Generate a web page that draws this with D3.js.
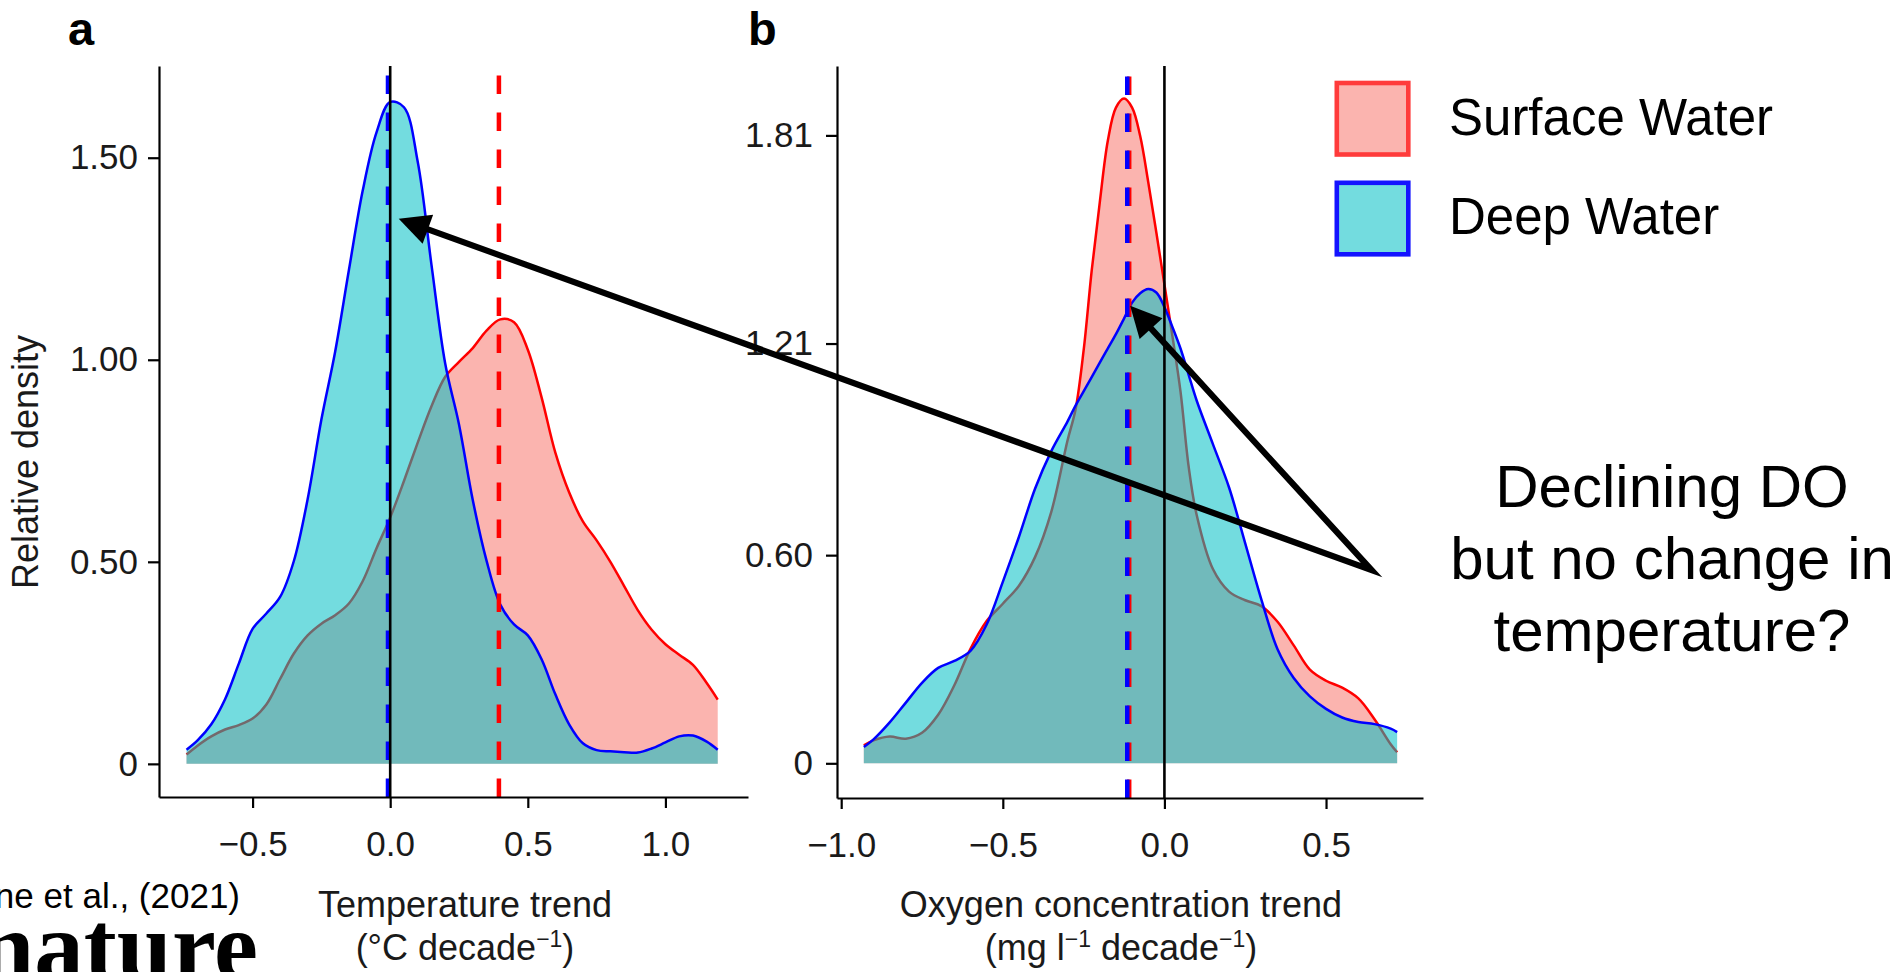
<!DOCTYPE html>
<html>
<head>
<meta charset="utf-8">
<script src="https://cdn.jsdelivr.net/npm/d3@7"></script>
<style>
  html, body { margin: 0; padding: 0; background: #fff; }
  svg { display: block; font-family: "Liberation Sans", Arial, Helvetica, sans-serif; }
</style>
</head>
<body>
<svg id="chart" width="1902" height="972"></svg>
<script>
// values (relative density on a trend grid)
const tempGrid = [-0.74, -0.70, -0.65, -0.60, -0.55, -0.50, -0.45, -0.40, -0.35, -0.30,
  -0.25, -0.20, -0.15, -0.10, -0.05, 0.00, 0.05, 0.10, 0.15, 0.20,
  0.25, 0.30, 0.35, 0.40, 0.45, 0.50, 0.55, 0.60, 0.65, 0.70,
  0.75, 0.80, 0.85, 0.90, 0.95, 1.00, 1.05, 1.10, 1.15, 1.19];
const tempSurface = [0.023, 0.045, 0.068, 0.085, 0.096, 0.112, 0.147, 0.210, 0.273, 0.318,
  0.347, 0.368, 0.397, 0.452, 0.533, 0.610, 0.700, 0.795, 0.885, 0.958,
  0.995, 1.029, 1.072, 1.100, 1.093, 1.025, 0.907, 0.770, 0.672, 0.600,
  0.553, 0.500, 0.440, 0.380, 0.332, 0.296, 0.270, 0.245, 0.200, 0.159];
const tempDeep = [0.035, 0.058, 0.098, 0.160, 0.248, 0.334, 0.372, 0.413, 0.502, 0.655,
  0.852, 1.020, 1.222, 1.418, 1.562, 1.638, 1.625, 1.490, 1.235, 0.990,
  0.840, 0.653, 0.503, 0.394, 0.345, 0.318, 0.259, 0.172, 0.098, 0.051,
  0.034, 0.031, 0.029, 0.028, 0.038, 0.053, 0.068, 0.070, 0.055, 0.035];

const oxyGrid = [-0.93, -0.90, -0.85, -0.80, -0.75, -0.70, -0.65, -0.60, -0.55, -0.50,
  -0.45, -0.40, -0.35, -0.30, -0.275, -0.25, -0.225, -0.20, -0.175, -0.15,
  -0.125, -0.10, -0.075, -0.05, -0.025, 0.00, 0.025, 0.05, 0.075, 0.10,
  0.15, 0.20, 0.25, 0.30, 0.35, 0.40, 0.45, 0.50, 0.55, 0.60,
  0.65, 0.70, 0.72];
const oxySurface = [0.052, 0.066, 0.077, 0.071, 0.088, 0.140, 0.225, 0.330, 0.410, 0.460,
  0.512, 0.595, 0.725, 0.930, 1.020, 1.190, 1.420, 1.617, 1.795, 1.890,
  1.916, 1.890, 1.808, 1.675, 1.530, 1.380, 1.230, 1.070, 0.855, 0.715,
  0.560, 0.495, 0.470, 0.453, 0.408, 0.340, 0.270, 0.238, 0.218, 0.187,
  0.127, 0.055, 0.032];
const oxyDeep = [0.047, 0.069, 0.118, 0.175, 0.232, 0.275, 0.295, 0.324, 0.400, 0.523,
  0.653, 0.792, 0.900, 0.985, 1.031, 1.072, 1.113, 1.155, 1.196, 1.237,
  1.282, 1.328, 1.355, 1.367, 1.357, 1.315, 1.257, 1.195, 1.120, 1.045,
  0.920, 0.795, 0.634, 0.472, 0.329, 0.246, 0.193, 0.157, 0.132, 0.119,
  0.113, 0.100, 0.090];

// mean trends drawn as dashed lines: [surface, deep]
const tempMeans = [0.395, -0.008];
const oxyMeans = [-0.109, -0.115];

const tempXTicks = [-0.5, 0, 0.5, 1.0];
const tempXLabels = ["\u22120.5", "0.0", "0.5", "1.0"];
const tempYTicks = [0, 0.5, 1.0, 1.5];
const tempYLabels = ["0", "0.50", "1.00", "1.50"];
const oxyXTicks = [-1.0, -0.5, 0, 0.5];
const oxyXLabels = ["\u22121.0", "\u22120.5", "0.0", "0.5"];
const oxyYTicks = [0, 0.60, 1.21, 1.81];
const oxyYLabels = ["0", "0.60", "1.21", "1.81"];

const seriesNames = ["Surface Water", "Deep Water"];
const noteLines = ["Declining DO", "but no change in", "temperature?"];

// arrow ends, in data units of the panel they sit in
const arrowTipTemp = [0.031, 1.349];
const arrowTipOxy = [-0.106, 1.319];
const arrowJoinOxy = [0.641, 0.557];

const lineCol = ["#ff0000", "#0000ff"];
const fillCol = ["#F8766D", "#00BFC4"];
const tickFont = 35;
const titleFont = 36;

const svg = d3.select("#chart");
svg.append("rect").attr("width", 1902).attr("height", 972).attr("fill", "#fff");

const panels = [
  {
    letter: "a", grid: tempGrid, series: [tempSurface, tempDeep], means: tempMeans,
    xDomain: [-0.84, 1.30], yDomain: [-0.082, 1.727],
    left: 159, right: 748, top: 66, bottom: 797,
    xTicks: tempXTicks, xLabels: tempXLabels, yTicks: tempYTicks, yLabels: tempYLabels,
    yPad: 10, letterX: 68, titleX: 465
  },
  {
    letter: "b", grid: oxyGrid, series: [oxySurface, oxyDeep], means: oxyMeans,
    xDomain: [-1.013, 0.80], yDomain: [-0.1, 2.01],
    left: 837, right: 1423, top: 66, bottom: 798,
    xTicks: oxyXTicks, xLabels: oxyXLabels, yTicks: oxyYTicks, yLabels: oxyYLabels,
    yPad: 13, letterX: 748, titleX: 1121
  }
];

function drawPanel(p) {
  const x = d3.scaleLinear().domain(p.xDomain).range([p.left, p.right]);
  const y = d3.scaleLinear().domain(p.yDomain).range([p.bottom, p.top]);
  p.x = x;
  p.y = y;
  const g = svg.append("g");

  p.series.forEach((vals, k) => {
    const pts = p.grid.map((gx, i) => [gx, vals[i]]);
    const area = d3.area().curve(d3.curveCatmullRom)
      .x(d => x(d[0])).y0(y(0)).y1(d => y(d[1]));
    const line = d3.line().curve(d3.curveCatmullRom)
      .x(d => x(d[0])).y(d => y(d[1]));
    g.append("path").datum(pts).attr("d", area)
      .attr("fill", fillCol[k]).attr("fill-opacity", 0.55);
    g.append("path").datum(pts).attr("d", line)
      .attr("fill", "none").attr("stroke", lineCol[k]).attr("stroke-width", 2.5);
  });

  p.means.forEach((m, k) => {
    g.append("line")
      .attr("x1", x(m)).attr("x2", x(m))
      .attr("y1", p.bottom).attr("y2", p.top)
      .attr("stroke", lineCol[k]).attr("stroke-width", 4.5)
      .attr("stroke-dasharray", "18.5,18.5");
  });

  g.append("line")
    .attr("x1", x(0)).attr("x2", x(0))
    .attr("y1", p.bottom).attr("y2", p.top)
    .attr("stroke", "#000").attr("stroke-width", 2.6);

  const xAxis = d3.axisBottom(x).tickValues(p.xTicks)
    .tickFormat((d, i) => p.xLabels[i])
    .tickSizeInner(11).tickSizeOuter(0).tickPadding(23);
  const yAxis = d3.axisLeft(y).tickValues(p.yTicks)
    .tickFormat((d, i) => p.yLabels[i])
    .tickSizeInner(11).tickSizeOuter(0).tickPadding(p.yPad);

  [[xAxis, `translate(0,${p.bottom})`], [yAxis, `translate(${p.left},0)`]].forEach(([ax, tr]) => {
    const a = g.append("g").attr("transform", tr).call(ax);
    a.attr("font-family", null).attr("font-size", null);
    a.selectAll("path, line").attr("stroke", "#000").attr("stroke-width", 2.2);
    a.selectAll("text").attr("fill", "#1a1a1a").attr("font-size", tickFont);
  });

  svg.append("text").attr("x", p.letterX).attr("y", 45)
    .attr("font-size", 47).attr("font-weight", "bold").text(p.letter);
}

panels.forEach(drawPanel);

// axis titles, second line carries superscripts
function titleLines(cx, first, parts) {
  svg.append("text").attr("x", cx).attr("y", 917)
    .attr("text-anchor", "middle").attr("font-size", titleFont).attr("fill", "#1a1a1a")
    .text(first);
  const t = svg.append("text").attr("x", cx).attr("y", 960)
    .attr("text-anchor", "middle").attr("font-size", titleFont).attr("fill", "#1a1a1a");
  let raised = false;
  parts.forEach(([s, sup]) => {
    const ts = t.append("tspan").text(s);
    if (sup) {
      ts.attr("font-size", 23).attr("dy", raised ? 0 : -13);
      raised = true;
    } else {
      if (raised) ts.attr("dy", 13);
      raised = false;
    }
  });
}
titleLines(panels[0].titleX, "Temperature trend",
  [["(\u00b0C decade", false], ["\u22121", true], [")", false]]);
titleLines(panels[1].titleX, "Oxygen concentration trend",
  [["(mg l", false], ["\u22121", true], [" decade", false], ["\u22121", true], [")", false]]);

svg.append("text")
  .attr("transform", "translate(38,462) rotate(-90)")
  .attr("text-anchor", "middle").attr("font-size", titleFont).attr("fill", "#1a1a1a")
  .text("Relative density");

// legend
const legend = svg.append("g");
seriesNames.forEach((name, k) => {
  const top = 83 + k * 99.8;
  legend.append("rect")
    .attr("x", 1336.8).attr("y", top).attr("width", 71.5).attr("height", 71.5)
    .attr("fill", fillCol[k]).attr("fill-opacity", 0.55)
    .attr("stroke", k === 0 ? "#ff3b3b" : "#1414ff").attr("stroke-width", 4.6);
  legend.append("text").attr("x", 1449).attr("y", 135 + k * 99)
    .attr("font-size", 51).attr("fill", "#000").text(name);
});

// annotation text
noteLines.forEach((s, i) => {
  svg.append("text").attr("x", 1672).attr("y", 507 + i * 72)
    .attr("text-anchor", "middle").attr("font-size", 60).attr("fill", "#000").text(s);
});

// arrows
const pa = panels[0], pb = panels[1];
const tip1 = [pa.x(arrowTipTemp[0]), pa.y(arrowTipTemp[1])];
const tip2 = [pb.x(arrowTipOxy[0]), pb.y(arrowTipOxy[1])];
const join = [pb.x(arrowJoinOxy[0]), pb.y(arrowJoinOxy[1])];
const headLen = 31, headHalf = 15.5;

function headOf(tip, from) {
  const dx = tip[0] - from[0], dy = tip[1] - from[1];
  const len = Math.hypot(dx, dy);
  const u = [dx / len, dy / len], n = [-u[1], u[0]];
  const base = [tip[0] - u[0] * headLen, tip[1] - u[1] * headLen];
  return {
    tri: [tip, [base[0] + n[0] * headHalf, base[1] + n[1] * headHalf],
      [base[0] - n[0] * headHalf, base[1] - n[1] * headHalf]],
    stop: [tip[0] - u[0] * headLen * 0.6, tip[1] - u[1] * headLen * 0.6]
  };
}
const h1 = headOf(tip1, join), h2 = headOf(tip2, join);
svg.append("path")
  .attr("d", d3.line()([h1.stop, join, h2.stop]))
  .attr("fill", "none").attr("stroke", "#000").attr("stroke-width", 6.2)
  .attr("stroke-linejoin", "miter").attr("stroke-miterlimit", 20);
[h1, h2].forEach(h => {
  svg.append("path").attr("d", d3.line()(h.tri) + "Z").attr("fill", "#000");
});

// source credit at the bottom left (cut by the frame, as in the original)
svg.append("text").attr("x", 240).attr("y", 908)
  .attr("text-anchor", "end").attr("font-size", 35).attr("fill", "#000")
  .text("ne et al., (2021)");
svg.append("text").attr("x", 258).attr("y", 980)
  .attr("text-anchor", "end").attr("font-size", 99).attr("font-weight", "bold")
  .attr("font-family", "'Liberation Serif', 'Times New Roman', serif")
  .attr("fill", "#000").text("nature");
</script>
</body>
</html>
